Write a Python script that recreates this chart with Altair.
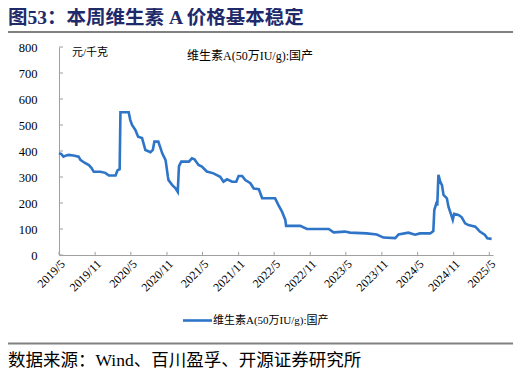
import altair as alt
import pandas as pd

# ---- data ----
dates = [
    "2019-05-01", "2019-05-13", "2019-05-24", "2019-06-07", "2019-06-19", "2019-07-13",
    "2019-08-09", "2019-08-18", "2019-09-08", "2019-09-30", "2019-10-13", "2019-10-25",
    "2019-11-28", "2019-12-23", "2020-01-10", "2020-02-13", "2020-02-23", "2020-03-05",
    "2020-03-09", "2020-04-20", "2020-04-28", "2020-05-07", "2020-05-24", "2020-06-07",
    "2020-06-27", "2020-07-14", "2020-08-09", "2020-08-21", "2020-08-29", "2020-09-18",
    "2020-10-08", "2020-10-25", "2020-11-06", "2020-11-09", "2020-11-28", "2020-12-15",
    "2020-12-26", "2021-01-01", "2021-01-04", "2021-01-13", "2021-02-21", "2021-03-08",
    "2021-03-21", "2021-04-11", "2021-04-28", "2021-05-23", "2021-06-26", "2021-07-30",
    "2021-08-16", "2021-09-03", "2021-09-29", "2021-10-20", "2021-11-01", "2021-11-19",
    "2021-12-05", "2021-12-31", "2022-01-17", "2022-02-12", "2022-03-01", "2022-05-06",
    "2022-05-23", "2022-06-10", "2022-06-27", "2022-07-01", "2022-09-11", "2022-10-15",
    "2023-02-03", "2023-02-28", "2023-04-27", "2023-05-22", "2023-08-16", "2023-10-06",
    "2023-11-09", "2024-01-08", "2024-01-25", "2024-03-15", "2024-04-18", "2024-05-13",
    "2024-07-04", "2024-07-20", "2024-07-25", "2024-08-07", "2024-08-09", "2024-08-12",
    "2024-08-15", "2024-08-24", "2024-09-02", "2024-09-10", "2024-09-27", "2024-10-05",
    "2024-10-19", "2024-10-27", "2024-11-03", "2024-11-25", "2024-12-12", "2024-12-29",
    "2025-01-15", "2025-02-19", "2025-03-14", "2025-04-09", "2025-04-21", "2025-05-13",
]
prices = [
    392, 388, 378, 383, 385, 383,
    378, 366, 355, 346, 335, 320,
    320, 316, 306, 306, 325, 330,
    549, 549, 520, 500, 481, 455,
    450, 404, 395, 404, 436, 436,
    391, 365, 300, 288, 269, 256,
    243, 340, 346, 359, 359, 372,
    368, 346, 340, 321, 314, 301,
    282, 291, 282, 282, 304, 304,
    288, 276, 256, 253, 218, 218,
    192, 167, 135, 112, 112, 100,
    100, 87, 90, 86, 83, 79,
    67, 65, 79, 86, 78, 83,
    83, 92, 173, 205, 190, 250,
    308, 282, 269, 231, 218, 186,
    154, 135, 158, 154, 145, 122,
    115, 109, 90, 77, 64, 62,
]
tick_dates = ["2019-05-01", "2019-11-01", "2020-05-01", "2020-11-01", "2021-05-01",
              "2021-11-01", "2022-05-01", "2022-11-01", "2023-05-01", "2023-11-01",
              "2024-05-01", "2024-11-01", "2025-05-01"]
y_ticks = [0, 100, 200, 300, 400, 500, 600, 700, 800]

series_name = "维生素A(50万IU/g):国产"
unit_label = "元/千克"
title_text = "图53：本周维生素 A 价格基本稳定"
source_text = "数据来源：Wind、百川盈孚、开源证券研究所"

# ---- styling ----
FONT = "Liberation Serif, Noto Sans CJK SC"
LINE_COLOR = "#2E75C8"
AXIS_COLOR = "#A0A0A0"
TITLE_COLOR = "#1F2A6B"

df = pd.DataFrame({"date": pd.to_datetime(dates), "price": prices})
xt = pd.DataFrame({"date": pd.to_datetime(tick_dates)})
yt = pd.DataFrame({"v": y_ticks})

x_dom = [alt.DateTime(year=2019, month=5, date=1), alt.DateTime(year=2025, month=5, date=20)]
x_scale = alt.Scale(domain=x_dom)
y_scale = alt.Scale(domain=[0, 800])

x_axis = alt.Axis(values=[alt.DateTime(year=int(d[:4]), month=int(d[5:7]), date=1) for d in tick_dates],
                  labelExpr="timeFormat(datum.value, '%Y/%-m')",
                  labelAngle=315, labelAlign="right", labelBaseline="top",
                  labelFont=FONT, labelFontSize=12, labelColor="#000000",
                  labelPadding=3, tickSize=0, domainColor=AXIS_COLOR,
                  grid=False, labelOverlap=False, labelBound=False, title=None)
y_axis = alt.Axis(values=y_ticks, labelFont=FONT, labelFontSize=12.5,
                  labelColor="#000000", labelPadding=22, tickSize=0,
                  domainColor=AXIS_COLOR, grid=False, labelOverlap=False, title=None)

line = alt.Chart(df).mark_line(color=LINE_COLOR, strokeWidth=2.6).encode(
    x=alt.X("date:T", scale=x_scale, axis=x_axis),
    y=alt.Y("price:Q", scale=y_scale, axis=y_axis),
)

# inside tick marks
xticks = alt.Chart(xt).mark_rule(color=AXIS_COLOR, strokeWidth=1).encode(
    x=alt.X("date:T", scale=x_scale, axis=x_axis),
    y=alt.datum(0, scale=y_scale, axis=y_axis),
    y2=alt.datum(12),
)
yticks = alt.Chart(yt).mark_rule(color=AXIS_COLOR, strokeWidth=1).encode(
    y=alt.Y("v:Q", scale=y_scale, axis=y_axis),
    x=alt.value(0),
    x2=alt.value(4),
)


def label(text, x, y, size, color="#000000", weight="normal", align="left"):
    return alt.Chart(pd.DataFrame({"t": [text]})).mark_text(
        align=align, baseline="middle", font=FONT, fontSize=size,
        color=color, fontWeight=weight,
    ).encode(x=alt.value(x), y=alt.value(y), text="t:N")


def hline(x1, x2, y, color, width):
    return alt.Chart(pd.DataFrame({"a": [0]})).mark_rule(color=color, strokeWidth=width).encode(
        x=alt.value(x1), x2=alt.value(x2), y=alt.value(y))


title = label(title_text, -51, -29.5, 19.5, TITLE_COLOR, "bold")
top_rule = hline(-51, 454, -15, "#808080", 2.2)
unit = label(unit_label, 13, 6, 11)
series_lbl = label(series_name, 128, 9, 12)
legend_line = hline(124, 153, 273.5, LINE_COLOR, 2.6)
legend_txt = label(series_name, 154, 273.5, 11)
bottom_rule = hline(-51, 454, 296.5, "#808080", 2.2)
source = label(source_text, -51, 313.5, 17.5)

chart = alt.layer(
    line, xticks, yticks, title, top_rule, unit, series_lbl,
    legend_line, legend_txt, bottom_rule, source,
).properties(
    width=434, height=208,
    autosize=alt.AutoSizeParams(type="none"),
    padding={"left": 51, "top": 39, "right": 20, "bottom": 118},
    background="#FFFFFF",
).configure_view(strokeWidth=0)

chart.save("out.html", embed_options={"renderer": "svg", "actions": False})
